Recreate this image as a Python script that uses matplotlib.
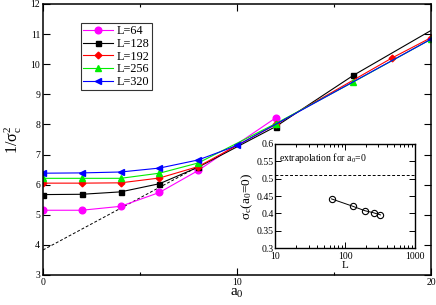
import numpy as np
import matplotlib
matplotlib.use("Agg")
import matplotlib.pyplot as plt
from matplotlib.ticker import MultipleLocator, LogLocator, NullFormatter

plt.rcParams['font.family'] = ['Liberation Serif', 'DejaVu Serif']
plt.rcParams['mathtext.fontset'] = 'custom'
plt.rcParams['mathtext.rm'] = 'Liberation Serif'
plt.rcParams['mathtext.it'] = 'Liberation Serif'
plt.rcParams['mathtext.default'] = 'regular'

# datos
a0_64 = [0, 2, 4, 6, 8, 12]
s_64 = [5.15, 5.15, 5.28, 5.74, 6.47, 8.22]
a0_128 = [0, 2, 4, 6, 8, 12, 16, 20]
s_128 = [5.67, 5.68, 5.76, 6.03, 6.58, 7.93, 9.63, 11.12]
a0_192 = [0, 2, 4, 6, 8, 12, 18, 20]
s_192 = [6.05, 6.05, 6.06, 6.22, 6.60, 8.00, 10.21, 10.88]
a0_256 = [0, 2, 4, 6, 8, 12, 16, 20]
s_256 = [6.21, 6.21, 6.21, 6.38, 6.72, 8.03, 9.41, 10.83]
a0_320 = [0, 2, 4, 6, 8, 10, 20]
s_320 = [6.38, 6.39, 6.42, 6.55, 6.82, 7.30, 10.83]

ajuste_x = [0, 8]
ajuste_y = [3.83, 6.60]

L_vals = [64, 128, 192, 256, 320]
sigma_c0 = [0.442, 0.421, 0.408, 0.402, 0.396]
sigma_inf = 0.51

fig = plt.figure(figsize=(4.36, 3.05), dpi=100)
ax = fig.add_axes([0.0986, 0.0984, 0.8899, 0.8886])

ms = 4.2
lw = 0.8
ax.plot(ajuste_x, ajuste_y, '--', color='k', lw=0.7, dashes=(3, 2))
ax.plot(a0_64, s_64, '-o', color='#ff00ff', ms=ms + 0.6, lw=lw, label='L=64')
ax.plot(a0_128, s_128, '-s', color='k', ms=ms - 0.6, lw=lw, markevery=list(range(7)), label='L=128')
ax.plot(a0_192, s_192, '-D', color='#ff0000', ms=ms - 0.8, lw=lw, label='L=192')
ax.plot(a0_256, s_256, '-^', color='#00ee00', ms=ms, lw=lw, label='L=256')
ax.plot(a0_320, s_320, '-<', color='#0000ff', ms=ms, lw=lw, label='L=320')

ax.set_xlim(0, 20)
ax.set_ylim(3, 12)
ax.xaxis.set_major_locator(MultipleLocator(10))
ax.xaxis.set_minor_locator(MultipleLocator(5))
ax.yaxis.set_major_locator(MultipleLocator(1))
ax.tick_params(which='both', direction='in', top=True, right=True, labelsize=7, width=0.8, pad=2)
ax.tick_params(which='major', length=5)
ax.tick_params(which='minor', length=2.5)
for s in ax.spines.values():
    s.set_linewidth(1.1)
ax.set_xlabel('a$_0$', fontsize=11, labelpad=0)
ax.set_ylabel('1/σ$_c^2$', fontsize=11.5, labelpad=5)

leg = ax.legend(loc='upper left', bbox_to_anchor=(0.098, 0.93), fontsize=8.8,
                frameon=True, fancybox=False, edgecolor='k', borderpad=0.2,
                labelspacing=0.05, handlelength=2.4, handletextpad=0.3, borderaxespad=0)
leg.get_frame().set_linewidth(0.8)

# recuadro: extrapolacion
axin = fig.add_axes([0.631, 0.186, 0.321, 0.342])
axin.plot(L_vals, sigma_c0, '-o', color='k', mfc='none', ms=4.5, lw=0.7, mew=0.8)
axin.axhline(sigma_inf, color='k', ls='--', lw=0.7, dashes=(3, 2))
axin.set_xscale('log')
axin.set_xlim(10, 1000)
axin.set_ylim(0.3, 0.6)
axin.yaxis.set_major_locator(MultipleLocator(0.05))
axin.yaxis.set_major_formatter(plt.FuncFormatter(lambda v, p: ('%.2f' % v).rstrip('0').rstrip('.')))
axin.xaxis.set_minor_locator(LogLocator(subs=np.arange(2, 10)))
axin.xaxis.set_minor_formatter(NullFormatter())
axin.xaxis.set_major_formatter(plt.FuncFormatter(lambda v, p: '%d' % v))
axin.tick_params(which='both', direction='in', top=True, right=True, labelsize=7, width=0.7, pad=1)
axin.tick_params(axis='x', pad=2.5)
axin.tick_params(which='major', length=4)
axin.tick_params(which='minor', length=2.5)
for s in axin.spines.values():
    s.set_linewidth(1.0)
axin.set_xlabel('L', fontsize=8, labelpad=0)
axin.set_ylabel('σ$_c$(a$_0$=0)', fontsize=9.5, labelpad=1)
axin.text(0.03, 0.93, 'extrapolation for a$_0$=0', transform=axin.transAxes, fontsize=7, va='top')

fig.savefig('out.png', dpi=100)
